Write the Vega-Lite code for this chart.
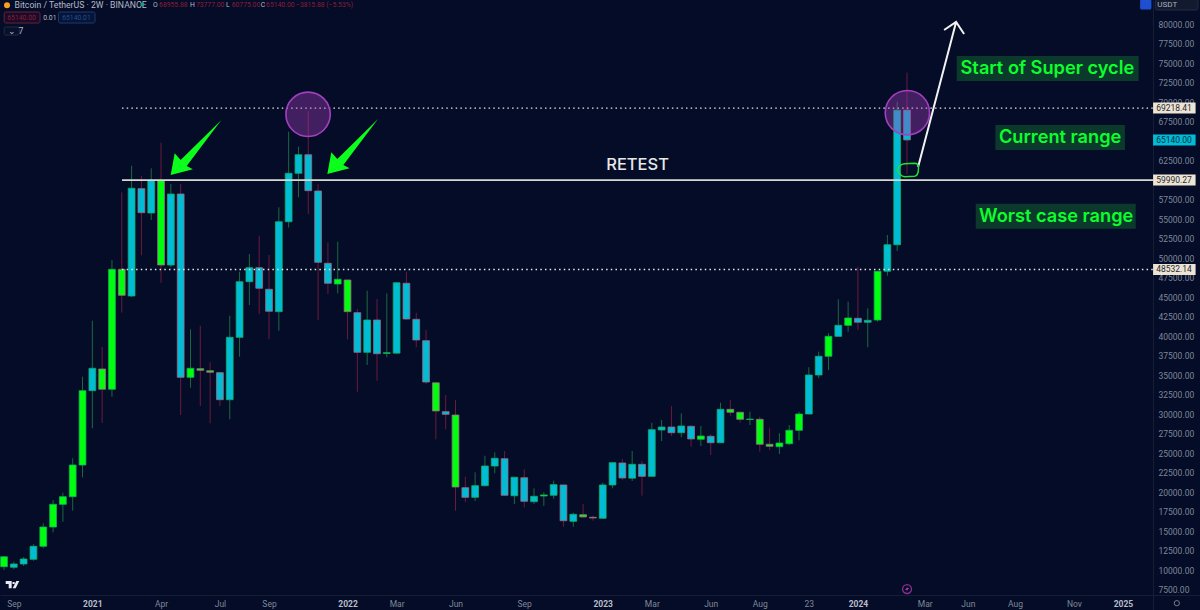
{"$schema":"https://vega.github.io/schema/vega-lite/v6.json","width":1200,"height":610,"autosize":{"type":"none"},"padding":0,"background":"#040c27","view":{"stroke":null},"config":{"font":"Roboto"},
"datasets":{
"candles":[
{"bar":0,"date":"2020-08-31","open":10420,"high":11800,"low":10000,"close":11700,"phase":"lime"},
{"bar":1,"date":"2020-09-14","open":10350,"high":11060,"low":10090,"close":10770,"phase":"cyan"},
{"bar":2,"date":"2020-09-28","open":10770,"high":11670,"low":10510,"close":11410,"phase":"cyan"},
{"bar":3,"date":"2020-10-12","open":11370,"high":13300,"low":11190,"close":13040,"phase":"cyan"},
{"bar":4,"date":"2020-10-26","open":13040,"high":15990,"low":12780,"close":15510,"phase":"lime"},
{"bar":5,"date":"2020-11-09","open":15510,"high":18970,"low":14830,"close":18420,"phase":"lime"},
{"bar":6,"date":"2020-11-23","open":18420,"high":19910,"low":16190,"close":19400,"phase":"lime"},
{"bar":7,"date":"2020-12-07","open":19400,"high":24320,"low":17600,"close":23460,"phase":"lime"},
{"bar":8,"date":"2020-12-21","open":23460,"high":34780,"low":21890,"close":32990,"phase":"lime"},
{"bar":9,"date":"2021-01-04","open":32990,"high":41960,"low":28170,"close":35860,"phase":"cyan"},
{"bar":10,"date":"2021-01-18","open":35770,"high":38590,"low":28850,"close":33170,"phase":"lime"},
{"bar":11,"date":"2021-02-01","open":33170,"high":49740,"low":32220,"close":48550,"phase":"lime"},
{"bar":12,"date":"2021-02-15","open":48550,"high":58420,"low":42990,"close":45220,"phase":"lime"},
{"bar":13,"date":"2021-03-01","open":45130,"high":61830,"low":45000,"close":58940,"phase":"cyan"},
{"bar":14,"date":"2021-03-15","open":58890,"high":60550,"low":50350,"close":55810,"phase":"cyan"},
{"bar":15,"date":"2021-03-29","open":55770,"high":61500,"low":54870,"close":59960,"phase":"cyan"},
{"bar":16,"date":"2021-04-12","open":59960,"high":64780,"low":46830,"close":49100,"phase":"lime"},
{"bar":17,"date":"2021-04-26","open":49100,"high":59490,"low":48810,"close":58200,"phase":"cyan"},
{"bar":18,"date":"2021-05-10","open":58200,"high":59490,"low":29870,"close":34700,"phase":"cyan"},
{"bar":19,"date":"2021-05-24","open":34700,"high":40860,"low":33370,"close":35860,"phase":"lime"},
{"bar":20,"date":"2021-06-07","open":35810,"high":41320,"low":31030,"close":35600,"phase":"lime"},
{"bar":21,"date":"2021-06-21","open":35550,"high":36630,"low":28810,"close":35350,"phase":"lime"},
{"bar":22,"date":"2021-07-05","open":35300,"high":35400,"low":31030,"close":31830,"phase":"cyan"},
{"bar":23,"date":"2021-07-19","open":31830,"high":42600,"low":29320,"close":39830,"phase":"cyan"},
{"bar":24,"date":"2021-08-02","open":39830,"high":48240,"low":37350,"close":46960,"phase":"cyan"},
{"bar":25,"date":"2021-08-16","open":46960,"high":50510,"low":43970,"close":48760,"phase":"cyan"},
{"bar":26,"date":"2021-08-30","open":48760,"high":52860,"low":42820,"close":46120,"phase":"cyan"},
{"bar":27,"date":"2021-09-13","open":45990,"high":50390,"low":39580,"close":43170,"phase":"cyan"},
{"bar":28,"date":"2021-09-27","open":43120,"high":56500,"low":40680,"close":54650,"phase":"cyan"},
{"bar":29,"date":"2021-10-11","open":54650,"high":66190,"low":53890,"close":60860,"phase":"cyan"},
{"bar":30,"date":"2021-10-25","open":60860,"high":64270,"low":57780,"close":63240,"phase":"cyan"},
{"bar":31,"date":"2021-11-08","open":63240,"high":68850,"low":55640,"close":58630,"phase":"cyan"},
{"bar":32,"date":"2021-11-22","open":58590,"high":59450,"low":42050,"close":49450,"phase":"cyan"},
{"bar":33,"date":"2021-12-06","open":49320,"high":52010,"low":45390,"close":46760,"phase":"cyan"},
{"bar":34,"date":"2021-12-20","open":46670,"high":52090,"low":45470,"close":47270,"phase":"lime"},
{"bar":35,"date":"2022-01-03","open":47180,"high":47250,"low":39580,"close":43120,"phase":"lime"},
{"bar":36,"date":"2022-01-17","open":42990,"high":43460,"low":32860,"close":37910,"phase":"cyan"},
{"bar":37,"date":"2022-01-31","open":37910,"high":45810,"low":36280,"close":42050,"phase":"cyan"},
{"bar":38,"date":"2022-02-14","open":42050,"high":44740,"low":34270,"close":37730,"phase":"cyan"},
{"bar":39,"date":"2022-02-28","open":37770,"high":45470,"low":37270,"close":37860,"phase":"lime"},
{"bar":40,"date":"2022-03-14","open":37800,"high":46900,"low":37750,"close":46830,"phase":"cyan"},
{"bar":41,"date":"2022-03-28","open":46760,"high":48240,"low":42050,"close":42180,"phase":"cyan"},
{"bar":42,"date":"2022-04-11","open":42140,"high":42990,"low":38550,"close":39490,"phase":"cyan"},
{"bar":43,"date":"2022-04-25","open":39400,"high":40770,"low":33810,"close":34100,"phase":"cyan"},
{"bar":44,"date":"2022-05-09","open":34000,"high":34100,"low":26760,"close":30390,"phase":"lime"},
{"bar":45,"date":"2022-05-23","open":30300,"high":32440,"low":28040,"close":29960,"phase":"cyan"},
{"bar":46,"date":"2022-06-06","open":29870,"high":31800,"low":17600,"close":20640,"phase":"lime"},
{"bar":47,"date":"2022-06-20","open":20550,"high":21960,"low":18680,"close":19320,"phase":"cyan"},
{"bar":48,"date":"2022-07-04","open":19320,"high":22530,"low":18850,"close":20810,"phase":"cyan"},
{"bar":49,"date":"2022-07-18","open":20810,"high":24650,"low":20700,"close":23330,"phase":"cyan"},
{"bar":50,"date":"2022-08-01","open":23330,"high":25090,"low":22400,"close":24320,"phase":"cyan"},
{"bar":51,"date":"2022-08-15","open":24270,"high":25260,"low":19520,"close":19580,"phase":"cyan"},
{"bar":52,"date":"2022-08-29","open":19520,"high":21930,"low":18460,"close":21890,"phase":"cyan"},
{"bar":53,"date":"2022-09-12","open":21830,"high":22910,"low":18040,"close":18810,"phase":"cyan"},
{"bar":54,"date":"2022-09-26","open":18760,"high":20470,"low":18460,"close":19450,"phase":"cyan"},
{"bar":55,"date":"2022-10-10","open":19490,"high":19960,"low":18210,"close":19620,"phase":"lime"},
{"bar":56,"date":"2022-10-24","open":19580,"high":21450,"low":19140,"close":20940,"phase":"cyan"},
{"bar":57,"date":"2022-11-07","open":20900,"high":20950,"low":15550,"close":16320,"phase":"cyan"},
{"bar":58,"date":"2022-11-21","open":16240,"high":17350,"low":15550,"close":17140,"phase":"cyan"},
{"bar":59,"date":"2022-12-05","open":17090,"high":18460,"low":16760,"close":16800,"phase":"lime"},
{"bar":60,"date":"2022-12-19","open":16760,"high":16960,"low":16320,"close":16670,"phase":"lime"},
{"bar":61,"date":"2023-01-02","open":16630,"high":21190,"low":16600,"close":20900,"phase":"cyan"},
{"bar":62,"date":"2023-01-16","open":20900,"high":23800,"low":20470,"close":23760,"phase":"cyan"},
{"bar":63,"date":"2023-01-30","open":23720,"high":24230,"low":21540,"close":21800,"phase":"cyan"},
{"bar":64,"date":"2023-02-13","open":21770,"high":25260,"low":21410,"close":23550,"phase":"cyan"},
{"bar":65,"date":"2023-02-27","open":23550,"high":24010,"low":19530,"close":22010,"phase":"cyan"},
{"bar":66,"date":"2023-03-13","open":22010,"high":28890,"low":21950,"close":27990,"phase":"cyan"},
{"bar":67,"date":"2023-03-27","open":27950,"high":29230,"low":26540,"close":28330,"phase":"cyan"},
{"bar":68,"date":"2023-04-10","open":28330,"high":31030,"low":27180,"close":27600,"phase":"cyan"},
{"bar":69,"date":"2023-04-24","open":27600,"high":30090,"low":27010,"close":28460,"phase":"cyan"},
{"bar":70,"date":"2023-05-08","open":28420,"high":28590,"low":25810,"close":26800,"phase":"cyan"},
{"bar":71,"date":"2023-05-22","open":26760,"high":28460,"low":25900,"close":27180,"phase":"lime"},
{"bar":72,"date":"2023-06-05","open":27140,"high":27400,"low":24740,"close":26320,"phase":"cyan"},
{"bar":73,"date":"2023-06-19","open":26320,"high":31450,"low":26270,"close":30600,"phase":"cyan"},
{"bar":74,"date":"2023-07-03","open":30600,"high":31800,"low":29780,"close":30220,"phase":"lime"},
{"bar":75,"date":"2023-07-17","open":30220,"high":30300,"low":28890,"close":29320,"phase":"lime"},
{"bar":76,"date":"2023-07-31","open":29290,"high":30300,"low":28590,"close":29350,"phase":"lime"},
{"bar":77,"date":"2023-08-14","open":29320,"high":29650,"low":25170,"close":26120,"phase":"lime"},
{"bar":78,"date":"2023-08-28","open":26120,"high":28240,"low":25390,"close":25860,"phase":"lime"},
{"bar":79,"date":"2023-09-11","open":25810,"high":27530,"low":24870,"close":26280,"phase":"lime"},
{"bar":80,"date":"2023-09-25","open":26190,"high":28590,"low":26030,"close":27910,"phase":"lime"},
{"bar":81,"date":"2023-10-09","open":27910,"high":30300,"low":26630,"close":30000,"phase":"lime"},
{"bar":82,"date":"2023-10-23","open":30000,"high":35990,"low":29950,"close":35000,"phase":"cyan"},
{"bar":83,"date":"2023-11-06","open":35000,"high":37990,"low":34580,"close":37400,"phase":"cyan"},
{"bar":84,"date":"2023-11-20","open":37400,"high":40350,"low":35640,"close":39960,"phase":"lime"},
{"bar":85,"date":"2023-12-04","open":39960,"high":44700,"low":39900,"close":41370,"phase":"cyan"},
{"bar":86,"date":"2023-12-18","open":41370,"high":44400,"low":40550,"close":42310,"phase":"lime"},
{"bar":87,"date":"2024-01-01","open":42270,"high":48890,"low":40770,"close":41760,"phase":"cyan"},
{"bar":88,"date":"2024-01-15","open":41760,"high":43550,"low":38550,"close":42010,"phase":"cyan"},
{"bar":89,"date":"2024-01-29","open":42050,"high":48340,"low":41830,"close":48300,"phase":"lime"},
{"bar":90,"date":"2024-02-12","open":48300,"high":52950,"low":47730,"close":51700,"phase":"cyan"},
{"bar":91,"date":"2024-02-26","open":51700,"high":70040,"low":50900,"close":68955,"phase":"cyan"},
{"bar":92,"date":"2024-03-11","open":68955.88,"high":73777,"low":60775,"close":65140,"phase":"cyan"}
],
"dotted":[{"from":12.02,"to":117.07,"price":69218.41},{"from":12.02,"to":117.07,"price":48532.14}],
"solid":[{"from":12.02,"to":117.07,"price":59990.27}],
"circles":[{"bar":30.98,"price":68423},{"bar":92.04,"price":68628}],
"pointers":[{"bar":16.98,"price":60641},{"bar":32.94,"price":60771}],
"callout":[{"bar":93.13,"price":61667}],
"loop":[{"bar":92.05,"price":61282}],
"greenBg":[{"from":97.06,"to":115.6,"price":74295},{"from":101,"to":114.2,"price":65449},{"from":99,"to":115.3,"price":55346}],
"greenText":[{"bar":106.3,"price":74231,"label":"Start of Super cycle"},{"bar":107.6,"price":65346,"label":"Current range"},{"bar":107.2,"price":55295,"label":"Worst case range"}],
"retest":[{"bar":64.55,"price":61923,"label":"RETEST"}],
"levelTags":[{"from":117.07,"to":121.4,"mid":119.2,"price":69218.41,"label":"69218.41"},{"from":117.07,"to":121.4,"mid":119.2,"price":59990.27,"label":"59990.27"},{"from":117.07,"to":121.4,"mid":119.2,"price":48532.14,"label":"48532.14"}],
"lastTag":[{"from":117.07,"to":121.4,"mid":119.2,"price":65140,"label":"65140.00"}],
"headTitle":[{"bar":1.07,"price":82500,"label":"Bitcoin / TetherUS · 2W · BINANCE"},{"bar":0.45,"price":79100,"label":"⌄ 7"}],
"headLight":[{"bar":15.18,"price":82500,"label":"O"},{"bar":18.95,"price":82500,"label":"H"},{"bar":22.62,"price":82500,"label":"L"},{"bar":26.15,"price":82500,"label":"C"},{"bar":4.0,"price":80830,"label":"0.01"}],
"headRed":[{"bar":15.8,"price":82500,"label":"68955.88"},{"bar":19.55,"price":82500,"label":"73777.00"},{"bar":23.2,"price":82500,"label":"60775.00"},{"bar":26.7,"price":82500,"label":"65140.00"},{"bar":29.75,"price":82500,"label":"−3815.88 (−5.53%)"},{"bar":0.33,"price":80830,"label":"65140.00"}],
"headBlue":[{"bar":5.93,"price":80830,"label":"65140.01"}],
"redBox":[{"from":0.02,"to":3.67,"price":80830}],
"blueBox":[{"from":5.55,"to":9.27,"price":80830}],
"greyBox":[{"from":0.02,"to":1.56,"price":79100}],
"blueBtn":[{"from":115.75,"to":116.9,"price":82500}],
"unitBox":[{"from":117.3,"to":121.65,"price":82500}],
"unitText":[{"bar":117.5,"price":82500,"label":"USDT"}],
"logo":[{"bar":0.173,"price":8590}],
"dots":[{"bar":14.1,"price":82500}],
"badge":[{"bar":0.306,"price":82400}],
"iconDot":[{"bar":92.0,"price":7563}],
"lightDot":[{"bar":119.49,"price":5750}]
},
"layer":[
{"data":{"name":"candles"},"mark":{"type":"rule","strokeWidth":1},
"encoding":{
"x":{"field":"bar","type":"quantitative","title":null,"scale":{"domain":[-0.4075,121.85],"nice":false,"zero":false,"padding":0},
"axis":{"orient":"bottom","offset":-15,"values":[1,9,16,22,27,35,40,46,53,61,66,72,77,82,87,93.8,98.2,103,109,114],"grid":false,"ticks":false,"labelFontSize":8.5,"labelPadding":4,"labelOverlap":false,"labelBound":false,"labelFlush":false,"labelColor":{"condition":{"test":"indexof([9,35,61,87,114],datum.value)>=0","value":"#b9bec9"},"value":"#7f8899"},"labelFontWeight":{"condition":{"test":"indexof([9,35,61,87,114],datum.value)>=0","value":"bold"},"value":"normal"},"domainColor":"#161d36",
"labelExpr":"{'1':'Sep','9':'2021','16':'Apr','22':'Jul','27':'Sep','35':'2022','40':'Mar','46':'Jun','53':'Sep','61':'2023','66':'Mar','72':'Jun','77':'Aug','82':'23','87':'2024','93.8':'Mar','98.2':'Jun','103':'Aug','109':'Nov','114':'2025'}[''+datum.value]"}},
"y":{"field":"low","type":"quantitative","title":null,"scale":{"domain":[4872,83077],"nice":false,"zero":false,"padding":0},
"axis":{"orient":"right","offset":-47,"values":[7500,10000,12500,15000,17500,20000,22500,25000,27500,30000,32500,35000,37500,40000,42500,45000,47500,50000,52500,55000,57500,62500,67500,70000,72500,75000,77500,80000],"tickCount":30,"format":".2f","grid":false,"ticks":false,"labelFontSize":8.5,"labelColor":"#7f8899","labelPadding":5,"labelAlign":"left","labelOverlap":false,"labelBound":false,"domainColor":"#161d36"}},
"y2":{"field":"high"},
"color":{"condition":{"test":"datum.close>=datum.open","value":"#1a6a40"},"value":"#6d1a3c"}}},
{"data":{"name":"candles"},"mark":{"type":"bar","size":6.8,"orient":"vertical","strokeWidth":0.8},
"encoding":{
"x":{"field":"bar","type":"quantitative"},
"y":{"field":"open","type":"quantitative"},"y2":{"field":"close"},
"fill":{"field":"phase","type":"nominal","legend":null,"scale":{"domain":["lime","cyan"],"range":["#00ff0c","#00bcd4"]}},
"stroke":{"condition":{"test":"datum.close>=datum.open","value":"#12b060"},"value":"#a06a86"}}},
{"data":{"name":"dotted"},"mark":{"type":"rule","stroke":"#e8e8e8","strokeWidth":1.4,"strokeDash":[1.5,3.2]},
"encoding":{"x":{"field":"from","type":"quantitative"},"x2":{"field":"to"},"y":{"field":"price","type":"quantitative"}}},
{"data":{"name":"solid"},"mark":{"type":"rule","stroke":"#d8d8d2","strokeWidth":1.6},
"encoding":{"x":{"field":"from","type":"quantitative"},"x2":{"field":"to"},"y":{"field":"price","type":"quantitative"}}},
{"data":{"name":"circles"},"mark":{"type":"point","shape":"circle","filled":true,"size":1963,"fill":"#a83fbc","fillOpacity":0.38,"stroke":"#a23fc0","strokeWidth":1.6,"strokeOpacity":1,"opacity":1},
"encoding":{"x":{"field":"bar","type":"quantitative"},"y":{"field":"price","type":"quantitative"}}},
{"data":{"name":"pointers"},"mark":{"type":"point","filled":true,"opacity":1,"size":4,"fill":"#0cff1c","shape":"M0,0 L4,-21.7 L10,-15 L50.7,-55 L16,-9 L22.3,-5.7 Z"},
"encoding":{"x":{"field":"bar","type":"quantitative"},"y":{"field":"price","type":"quantitative"}}},
{"data":{"name":"callout"},"mark":{"type":"point","filled":false,"opacity":1,"size":4,"stroke":"#f2f2f2","strokeWidth":2,"shape":"M0,0 L38,-145 M26,-137 L38,-145 L46,-133"},
"encoding":{"x":{"field":"bar","type":"quantitative"},"y":{"field":"price","type":"quantitative"}}},
{"data":{"name":"loop"},"mark":{"type":"point","filled":false,"opacity":1,"size":4,"stroke":"#22e03a","strokeWidth":1.5,"shape":"M-10,0 C-9,-4 -6,-6 -3,-6.3 L7,-6.7 C10,-6.7 11,-5 11,-2 C11,2 10,6 7,6.3 L-3,6.7 C-6,6.7 -9,3 -10,0 Z"},
"encoding":{"x":{"field":"bar","type":"quantitative"},"y":{"field":"price","type":"quantitative"}}},
{"data":{"name":"greenBg"},"mark":{"type":"bar","orient":"horizontal","size":25,"fill":"#0b3a2c"},
"encoding":{"x":{"field":"from","type":"quantitative"},"x2":{"field":"to"},"y":{"field":"price","type":"quantitative"}}},
{"data":{"name":"greenText"},"mark":{"type":"text","font":"Inter","fontWeight":600,"fontSize":18.2,"fill":"#0cff2c","align":"center","baseline":"middle"},
"encoding":{"x":{"field":"bar","type":"quantitative"},"y":{"field":"price","type":"quantitative"},"text":{"field":"label"}}},
{"data":{"name":"retest"},"mark":{"type":"text","font":"Inter","fontWeight":500,"fontSize":16.5,"fill":"#e8e8e8","align":"center","baseline":"middle"},
"encoding":{"x":{"field":"bar","type":"quantitative"},"y":{"field":"price","type":"quantitative"},"text":{"field":"label"}}},
{"data":{"name":"levelTags"},"mark":{"type":"bar","orient":"horizontal","size":11,"fill":"#ece4d4"},
"encoding":{"x":{"field":"from","type":"quantitative"},"x2":{"field":"to"},"y":{"field":"price","type":"quantitative"}}},
{"data":{"name":"levelTags"},"mark":{"type":"text","fontSize":8.5,"fill":"#2a2a30","align":"center","baseline":"middle"},
"encoding":{"x":{"field":"mid","type":"quantitative"},"y":{"field":"price","type":"quantitative"},"text":{"field":"label"}}},
{"data":{"name":"lastTag"},"mark":{"type":"bar","orient":"horizontal","size":11,"fill":"#00bcd4"},
"encoding":{"x":{"field":"from","type":"quantitative"},"x2":{"field":"to"},"y":{"field":"price","type":"quantitative"}}},
{"data":{"name":"lastTag"},"mark":{"type":"text","fontSize":8.5,"fill":"#0a2f48","align":"center","baseline":"middle"},
"encoding":{"x":{"field":"mid","type":"quantitative"},"y":{"field":"price","type":"quantitative"},"text":{"field":"label"}}},
{"data":{"name":"redBox"},"mark":{"type":"bar","orient":"horizontal","size":11,"fill":"#1a0c28","stroke":"#6b2236","strokeWidth":1,"cornerRadius":1.5},
"encoding":{"x":{"field":"from","type":"quantitative"},"x2":{"field":"to"},"y":{"field":"price","type":"quantitative"}}},
{"data":{"name":"blueBox"},"mark":{"type":"bar","orient":"horizontal","size":11,"fill":"#061438","stroke":"#1c3a6e","strokeWidth":1,"cornerRadius":1.5},
"encoding":{"x":{"field":"from","type":"quantitative"},"x2":{"field":"to"},"y":{"field":"price","type":"quantitative"}}},
{"data":{"name":"greyBox"},"mark":{"type":"bar","orient":"horizontal","size":8,"fill":"#08102a","stroke":"#232c45","strokeWidth":1,"cornerRadius":1.5},
"encoding":{"x":{"field":"from","type":"quantitative"},"x2":{"field":"to"},"y":{"field":"price","type":"quantitative"}}},
{"data":{"name":"blueBtn"},"mark":{"type":"bar","orient":"horizontal","size":10,"fill":"#1e4fd0","cornerRadius":1.5},
"encoding":{"x":{"field":"from","type":"quantitative"},"x2":{"field":"to"},"y":{"field":"price","type":"quantitative"}}},
{"data":{"name":"unitBox"},"mark":{"type":"bar","orient":"horizontal","size":11,"fill":"#121a30","stroke":"#252d44","strokeWidth":1,"cornerRadius":1.5},
"encoding":{"x":{"field":"from","type":"quantitative"},"x2":{"field":"to"},"y":{"field":"price","type":"quantitative"}}},
{"data":{"name":"unitText"},"mark":{"type":"text","fontSize":8,"fill":"#aab0bc","align":"left","baseline":"middle"},
"encoding":{"x":{"field":"bar","type":"quantitative"},"y":{"field":"price","type":"quantitative"},"text":{"field":"label"}}},
{"data":{"name":"headTitle"},"mark":{"type":"text","fontSize":8.7,"fill":"#b4bac6","align":"left","baseline":"middle"},
"encoding":{"x":{"field":"bar","type":"quantitative"},"y":{"field":"price","type":"quantitative"},"text":{"field":"label"}}},
{"data":{"name":"headLight"},"mark":{"type":"text","fontSize":6.8,"fill":"#b4bac6","align":"left","baseline":"middle"},
"encoding":{"x":{"field":"bar","type":"quantitative"},"y":{"field":"price","type":"quantitative"},"text":{"field":"label"}}},
{"data":{"name":"headRed"},"mark":{"type":"text","fontSize":6.8,"fill":"#8c1c3c","align":"left","baseline":"middle"},
"encoding":{"x":{"field":"bar","type":"quantitative"},"y":{"field":"price","type":"quantitative"},"text":{"field":"label"}}},
{"data":{"name":"headBlue"},"mark":{"type":"text","fontSize":6.8,"fill":"#24508e","align":"left","baseline":"middle"},
"encoding":{"x":{"field":"bar","type":"quantitative"},"y":{"field":"price","type":"quantitative"},"text":{"field":"label"}}},
{"data":{"name":"dots"},"mark":{"type":"point","shape":"circle","filled":true,"size":16,"fill":"#14a08c","opacity":1},
"encoding":{"x":{"field":"bar","type":"quantitative"},"y":{"field":"price","type":"quantitative"}}},
{"data":{"name":"badge"},"mark":{"type":"point","shape":"circle","filled":true,"size":36,"fill":"#f5a020","opacity":1},
"encoding":{"x":{"field":"bar","type":"quantitative"},"y":{"field":"price","type":"quantitative"}}},
{"data":{"name":"iconDot"},"mark":{"type":"point","shape":"circle","filled":false,"size":80,"stroke":"#8a2f8f","strokeWidth":1.3,"opacity":1},
"encoding":{"x":{"field":"bar","type":"quantitative"},"y":{"field":"price","type":"quantitative"}}},
{"data":{"name":"iconDot"},"mark":{"type":"point","filled":true,"size":4,"fill":"#a03fa0","opacity":1,"shape":"M1,-3 L-2,1 L0,1 L-1,3 L2,-1 L0,-1 Z"},
"encoding":{"x":{"field":"bar","type":"quantitative"},"y":{"field":"price","type":"quantitative"}}},
{"data":{"name":"lightDot"},"mark":{"type":"point","shape":"circle","filled":false,"size":28,"stroke":"#7f8899","strokeWidth":0.9,"opacity":1},
"encoding":{"x":{"field":"bar","type":"quantitative"},"y":{"field":"price","type":"quantitative"}}},
{"data":{"name":"logo"},"mark":{"type":"point","filled":true,"opacity":1,"size":4,"fill":"#e8eaf0","shape":"M0,0H6V7.3H3V3H0Z M6.8,1h2.2v2h-2.2Z M13.6,0L10,7.3H7L10.6,0Z"},
"encoding":{"x":{"field":"bar","type":"quantitative"},"y":{"field":"price","type":"quantitative"}}}
]}
